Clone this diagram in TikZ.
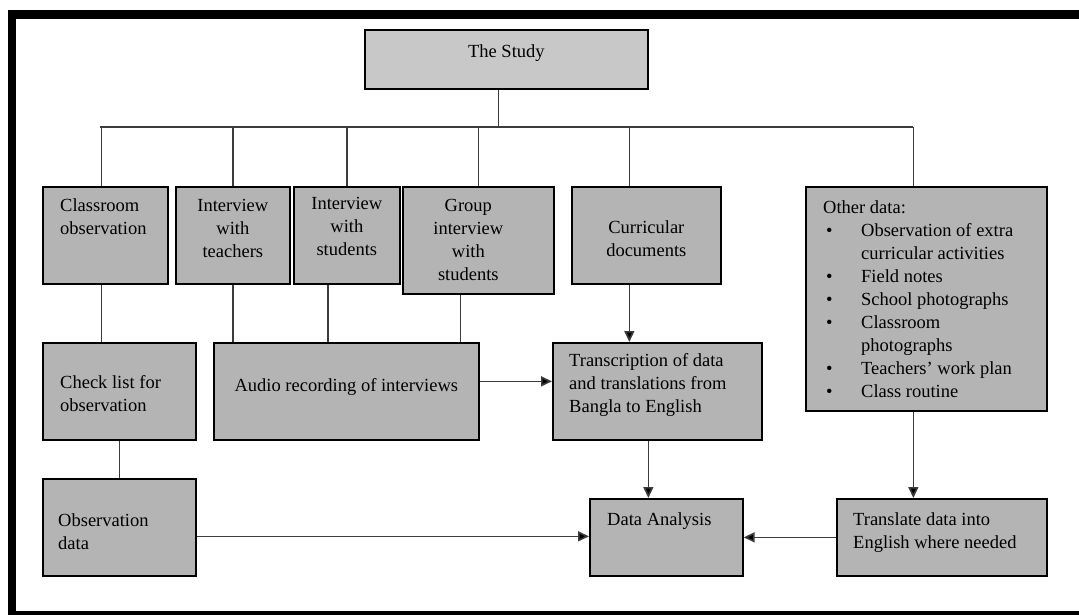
\documentclass[tikz,border=0pt]{standalone}
\usepackage{fontspec}
\setmainfont{Liberation Serif}
\usetikzlibrary{calc,arrows.meta}
\definecolor{boxgrey}{RGB}{180,180,180}
\definecolor{topgrey}{RGB}{200,200,200}
\definecolor{linkgrey}{RGB}{60,60,60}
\newcommand{\blt}{\makebox[38pt][l]{\hspace*{3pt}\textbullet}}
\newcommand{\ind}{\hspace*{38pt}}
\tikzset{
  box/.style={draw=black, line width=1.7pt, fill=boxgrey, anchor=north west, inner sep=0pt},
  lbl/.style={font=\fontsize{18.5}{23}\selectfont, inner sep=0pt, align=left},
  link/.style={draw=linkgrey, line width=1.6pt},
  flow/.style={link, -{Triangle[length=11pt,width=10pt,fill=black]}},
}

\begin{document}
\begin{tikzpicture}[x=1pt,y=-1pt]
	%%%%% FRAME %%%%%
	\useasboundingbox (0,0) rectangle (1079,615);
	\fill[black] (8,10) rectangle (1079,19);
	\fill[black] (8,10) rectangle (16,615);
	\fill[black] (8,611) rectangle (1079,615);
	
	%%%%% BOXES %%%%%
	\node[box, fill=topgrey, minimum width=283, minimum height=59,
		label={[lbl, anchor=north, yshift=-15pt]north:The Study}] (study) at (364,29) {};
	
	\node[box, minimum width=125, minimum height=97,
		label={[lbl, anchor=north west, xshift=18pt, yshift=-12pt]north west:{Classroom\\observation}}] (cls) at (42,186) {};
	\node[box, minimum width=114, minimum height=97,
		label={[lbl, align=center, anchor=north, yshift=-13pt]north:{Interview\\with\\teachers}}] (iwt) at (175,186) {};
	\node[box, minimum width=106, minimum height=97,
		label={[lbl, align=center, anchor=north, yshift=-11pt]north:{Interview\\with\\students}}] (iws) at (293,186) {};
	\node[box, minimum width=151, minimum height=107,
		label={[lbl, align=center, anchor=north, xshift=-10pt, yshift=-13pt]north:{Group\\interview\\with\\students}}] (grp) at (402,186) {};
	\node[box, minimum width=149, minimum height=97,
		label={[lbl, align=center, anchor=north, yshift=-34pt]north:{Curricular\\documents}}] (cur) at (571,186) {};
	\node[box, minimum width=241, minimum height=224,
		label={[lbl, anchor=north west, xshift=18pt, yshift=-14pt]north west:{Other data:\\
			\blt Observation of extra\\\ind curricular activities\\
			\blt Field notes\\\blt School photographs\\
			\blt Classroom\\\ind photographs\\
			\blt Teachers’ work plan\\\blt Class routine}}] (oth) at (805,186) {};
	
	\node[box, minimum width=153, minimum height=97,
		label={[lbl, anchor=north west, xshift=18pt, yshift=-33pt]north west:{Check list for\\observation}}] (chk) at (42,342) {};
	\node[box, minimum width=265, minimum height=97,
		label={[lbl, align=center, anchor=north, yshift=-36pt]north:Audio recording of interviews}] (aud) at (213,342) {};
	\node[box, minimum width=209, minimum height=97,
		label={[lbl, anchor=north west, xshift=17pt, yshift=-11pt]north west:{Transcription of data\\and translations from\\Bangla to English}}] (trn) at (552,342) {};
	
	\node[box, minimum width=153, minimum height=97,
		label={[lbl, anchor=north west, xshift=16pt, yshift=-35pt]north west:{Observation\\data}}] (obs) at (42,478) {};
	\node[box, minimum width=153, minimum height=77,
		label={[lbl, anchor=north west, xshift=18pt, yshift=-14pt]north west:Data Analysis}] (ana) at (589,498) {};
	\node[box, minimum width=210, minimum height=77,
		label={[lbl, anchor=north west, xshift=17pt, yshift=-14pt]north west:{Translate data into\\English where needed}}] (tra) at (836,498) {};
	
	%%%%% TREE %%%%%
	\coordinate (busW) at (100,127);
	\coordinate (busE) at (913,127);
	\coordinate (stem) at ($(study.south)+(-8,0)$);
	\draw[link] (stem) -- (stem |- busW);
	\draw[link] (busW) -- (busE);
	
	\coordinate (clsT) at ($(cls.north)+(-4,0)$);
	\coordinate (curT) at ($(cur.north)+(-17,0)$);
	\coordinate (othT) at ($(oth.north)+(-13,0)$);
	\draw[link] (clsT |- busW) -- (clsT);
	\draw[link] (iwt.north |- busW) -- (iwt.north);
	\draw[link] (iws.north |- busW) -- (iws.north);
	\draw[link] (grp.north |- busW) -- (grp.north);
	\draw[link] (curT |- busW) -- (curT);
	\draw[link] (othT |- busW) -- (othT);
	
	%%%%% LOWER LINKS %%%%%
	\coordinate (clsB) at ($(cls.south)+(-4,0)$);
	\coordinate (iwsB) at ($(iws.south)+(-19,0)$);
	\coordinate (grpB) at ($(grp.south)+(-18,0)$);
	\coordinate (curB) at ($(cur.south)+(-17,0)$);
	\coordinate (trnB) at ($(trn.south)+(-9,0)$);
	\coordinate (othB) at ($(oth.south)+(-13,0)$);
	\coordinate (audE) at ($(aud.east)+(0,-10)$);
	\coordinate (obsE) at ($(obs.east)+(0,9)$);
	
	\draw[link] (clsB) -- (clsB |- chk.north);
	\draw[link] (iwt.south) -- (iwt.south |- aud.north);
	\draw[link] (iwsB) -- (iwsB |- aud.north);
	\draw[link] (grpB) -- (grpB |- aud.north);
	\draw[link] (chk.south) -- (obs.north);
	
	\draw[flow] (curB) -- (curB |- trn.north);
	\draw[flow] (audE) -- (audE -| trn.west);
	\draw[flow] (trnB) -- (trnB |- ana.north);
	\draw[flow] (othB) -- (othB |- tra.north);
	\draw[flow] (obsE) -- (obsE -| ana.west);
	\draw[flow] (tra.west) -- (ana.east);
\end{tikzpicture}
\end{document}
